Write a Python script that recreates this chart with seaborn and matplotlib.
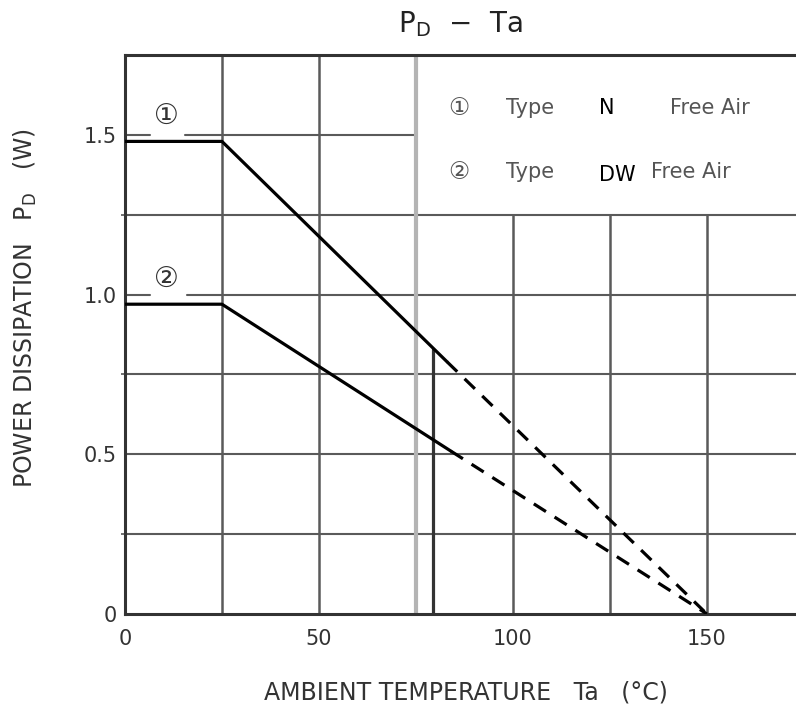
import numpy as np
import pandas as pd
import matplotlib
matplotlib.use("Agg")
import matplotlib.pyplot as plt
import seaborn as sns

# --- data ---
ta_n_solid = [0, 25, 83]
pd_n_solid = [1.48, 1.48, 0.79]
ta_n_dash = [83, 150]
pd_n_dash = [0.79, 0.0]

ta_dw_solid = [0, 25, 84]
pd_dw_solid = [0.97, 0.97, 0.51]
ta_dw_dash = [84, 150]
pd_dw_dash = [0.51, 0.0]

ta_limit = [79.5, 79.5]
pd_limit = [0.0, 0.83]

x_ticks = [0, 50, 100, 150]
y_ticks = [0, 0.5, 1.0, 1.5]
y_tick_labels = ["0", "0.5", "1.0", "1.5"]

sns.set_style("white")
plt.rcParams['font.family'] = ['DejaVu Sans', 'Noto Sans CJK JP']

fig = plt.figure(figsize=(7.96, 7.08), dpi=100)
ax = fig.add_axes([0.157, 0.133, 0.843, 0.789])
ax.set_xlim(0, 173)
ax.set_ylim(0, 1.75)

grid_c = "#5a5a5a"
# horizontal grid (broken around the curve labels, cut by the legend box)
ax.plot([0, 6.5], [1.5, 1.5], color=grid_c, lw=1.5, zorder=1)
ax.plot([15.5, 75], [1.5, 1.5], color=grid_c, lw=1.5, zorder=1)
ax.plot([0, 6.5], [1.0, 1.0], color=grid_c, lw=1.5, zorder=1)
ax.plot([16, 173], [1.0, 1.0], color=grid_c, lw=1.5, zorder=1)
for yv in [0.25, 0.5, 0.75, 1.25]:
    ax.axhline(yv, color=grid_c, lw=1.5, zorder=1)
# vertical grid
for xv in [25, 50]:
    ax.axvline(xv, color=grid_c, lw=1.8, zorder=1)
ax.axvline(75, color="#b4b4b4", lw=3, zorder=1)
for xv in [100, 125, 150]:
    ax.plot([xv, xv], [0, 1.25], color=grid_c, lw=1.8, zorder=1)

# curves
line_kw = dict(color="black", lw=2.3, sort=False, estimator=None, ax=ax, zorder=3)
sns.lineplot(x=ta_n_solid, y=pd_n_solid, **line_kw)
sns.lineplot(x=ta_dw_solid, y=pd_dw_solid, **line_kw)
sns.lineplot(x=ta_n_dash, y=pd_n_dash, linestyle=(0, (4.5, 3.2)), **line_kw)
sns.lineplot(x=ta_dw_dash, y=pd_dw_dash, linestyle=(0, (4.5, 3.2)), **line_kw)
sns.lineplot(x=ta_limit, y=pd_limit, color="#333333", lw=2.3, sort=False,
             estimator=None, ax=ax, zorder=2)

# curve labels
ax.text(10.8, 1.56, "\u2460", fontsize=20, ha="center", va="center", color="#333333")
ax.text(10.8, 1.05, "\u2461", fontsize=20, ha="center", va="center", color="#333333")

# legend box text
fs_leg = 15
r1, r2 = 1.584, 1.384
ax.text(83.4, r1, "\u2460", fontsize=17, va="center", color="#555555")
ax.text(98.3, r1, "Type", fontsize=fs_leg, va="center", color="#555555")
ax.text(122.3, r1, "N", fontsize=fs_leg, va="center", color="black")
ax.text(140.4, r1, "Free Air", fontsize=fs_leg, va="center", color="#555555")
ax.text(83.4, r2, "\u2461", fontsize=17, va="center", color="#555555")
ax.text(98.3, r2, "Type", fontsize=fs_leg, va="center", color="#555555")
ax.text(122.3, r2 - 0.01, "DW", fontsize=fs_leg, va="center", color="black")
ax.text(135.7, r2, "Free Air", fontsize=fs_leg, va="center", color="#555555")

# spines and ticks
for s in ["left", "bottom", "top"]:
    ax.spines[s].set_color("#333333")
    ax.spines[s].set_linewidth(2.2)
ax.spines["right"].set_visible(False)

ax.set_xticks(x_ticks)
ax.set_yticks(y_ticks)
ax.set_yticklabels(y_tick_labels)
ax.set_yticks([0.25, 0.75, 1.25], minor=True)
ax.tick_params(axis="x", length=0, pad=11, labelsize=15, labelcolor="#333333")
ax.tick_params(axis="y", which="both", length=3, width=1.2, color="#555555",
               direction="out", pad=3, labelsize=15, labelcolor="#333333")
ax.tick_params(axis="y", which="minor", left=True)

ax.set_xlabel("AMBIENT TEMPERATURE   Ta   (\u00b0C)", fontsize=17, color="#333333")
ax.xaxis.set_label_coords((466 - 125) / 671, -(693 - 614) / 559)
ax.xaxis.label.set_va("center")
ax.set_ylabel("POWER DISSIPATION   P$_\\mathregular{D}$   (W)", fontsize=17,
              color="#333333")
ax.yaxis.set_label_coords(-(125 - 25) / 671, (614 - 308) / 559)
ax.yaxis.label.set_va("center")

fig.text(460 / 796, 1 - 24 / 708, "P$_\\mathregular{D}$  \u2212  Ta", fontsize=20,
         ha="center", va="center", color="#222222")

fig.savefig("out.png", dpi=100)
